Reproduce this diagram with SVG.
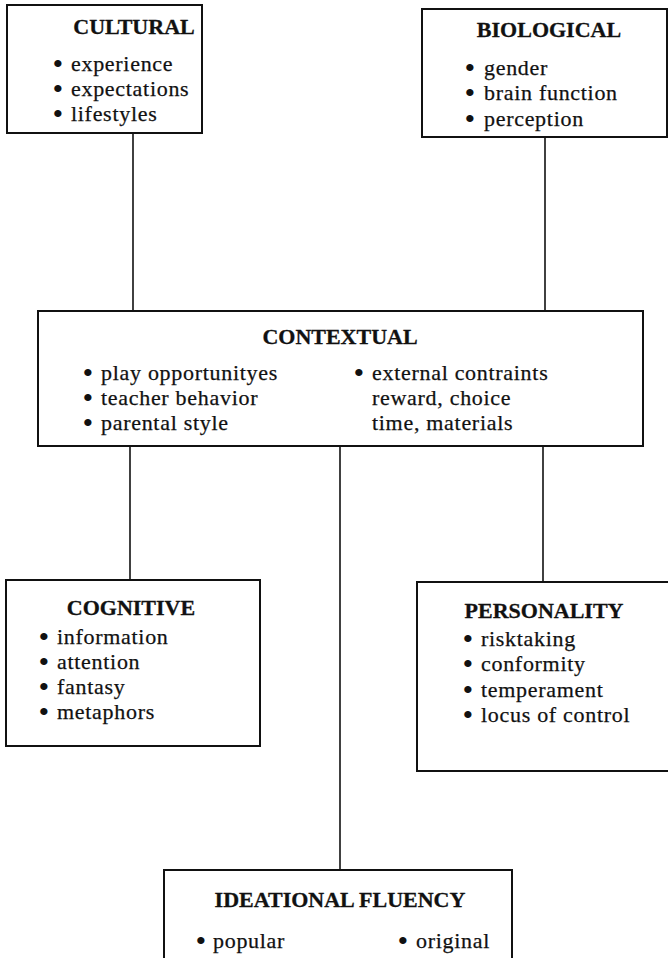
<svg xmlns="http://www.w3.org/2000/svg" width="668" height="958" viewBox="0 0 668 958">
<style>
.box{fill:#fff;stroke:#111;stroke-width:2}
.ln{stroke:#111;stroke-width:1.6;fill:none}
text{font-family:"Liberation Serif","Times New Roman",serif;fill:#111}
.t{font-size:22px;font-weight:bold;text-anchor:middle;stroke:#111;stroke-width:0.3}
.i{font-size:22px;letter-spacing:0.7px;stroke:#111;stroke-width:0.25}
.b{stroke-width:2;letter-spacing:0}
</style>
<rect width="668" height="958" fill="#fff"/>
<g id="connectors">
<line class="ln" x1="133" y1="133" x2="133" y2="311"/>
<line class="ln" x1="545" y1="137" x2="545" y2="311"/>
<line class="ln" x1="130" y1="446" x2="130" y2="580"/>
<line class="ln" x1="340" y1="446" x2="340" y2="870"/>
<line class="ln" x1="543" y1="446" x2="543" y2="582"/>
</g>
<g id="cultural">
<rect class="box" x="7" y="5" width="195" height="128"/>
<text class="t" x="134" y="34">CULTURAL</text>
<text class="i" y="71"><tspan class="b" x="54">•</tspan><tspan x="71">experience</tspan></text>
<text class="i" y="96"><tspan class="b" x="54">•</tspan><tspan x="71">expectations</tspan></text>
<text class="i" y="121"><tspan class="b" x="54">•</tspan><tspan x="71">lifestyles</tspan></text>
</g>
<g id="biological">
<rect class="box" x="422" y="9" width="245" height="128"/>
<text class="t" x="549" y="37">BIOLOGICAL</text>
<text class="i" y="75"><tspan class="b" x="466">•</tspan><tspan x="484">gender</tspan></text>
<text class="i" y="100"><tspan class="b" x="466">•</tspan><tspan x="484">brain function</tspan></text>
<text class="i" y="126"><tspan class="b" x="466">•</tspan><tspan x="484">perception</tspan></text>
</g>
<g id="contextual">
<rect class="box" x="38" y="311" width="605" height="135"/>
<text class="t" x="340" y="344">CONTEXTUAL</text>
<text class="i" y="380"><tspan class="b" x="84">•</tspan><tspan x="101">play opportunityes</tspan></text>
<text class="i" y="405"><tspan class="b" x="84">•</tspan><tspan x="101">teacher behavior</tspan></text>
<text class="i" y="430"><tspan class="b" x="84">•</tspan><tspan x="101">parental style</tspan></text>
<text class="i" y="380"><tspan class="b" x="355">•</tspan><tspan x="372">external contraints</tspan></text>
<text class="i" x="372" y="405">reward, choice</text>
<text class="i" x="372" y="430">time, materials</text>
</g>
<g id="cognitive">
<rect class="box" x="6" y="580" width="254" height="166"/>
<text class="t" x="131" y="615">COGNITIVE</text>
<text class="i" y="644"><tspan class="b" x="40">•</tspan><tspan x="57">information</tspan></text>
<text class="i" y="669"><tspan class="b" x="40">•</tspan><tspan x="57">attention</tspan></text>
<text class="i" y="694"><tspan class="b" x="40">•</tspan><tspan x="57">fantasy</tspan></text>
<text class="i" y="719"><tspan class="b" x="40">•</tspan><tspan x="57">metaphors</tspan></text>
</g>
<g id="personality">
<rect class="box" x="417" y="582" width="252" height="189"/>
<text class="t" x="544" y="618">PERSONALITY</text>
<text class="i" y="646"><tspan class="b" x="464">•</tspan><tspan x="481">risktaking</tspan></text>
<text class="i" y="671"><tspan class="b" x="464">•</tspan><tspan x="481">conformity</tspan></text>
<text class="i" y="697"><tspan class="b" x="464">•</tspan><tspan x="481">temperament</tspan></text>
<text class="i" y="722"><tspan class="b" x="464">•</tspan><tspan x="481">locus of control</tspan></text>
</g>
<g id="ideational">
<rect class="box" x="164" y="870" width="348" height="100"/>
<text class="t" x="340" y="907">IDEATIONAL FLUENCY</text>
<text class="i" y="948"><tspan class="b" x="197">•</tspan><tspan x="213">popular</tspan></text>
<text class="i" y="948"><tspan class="b" x="399">•</tspan><tspan x="416">original</tspan></text>
</g>
</svg>
